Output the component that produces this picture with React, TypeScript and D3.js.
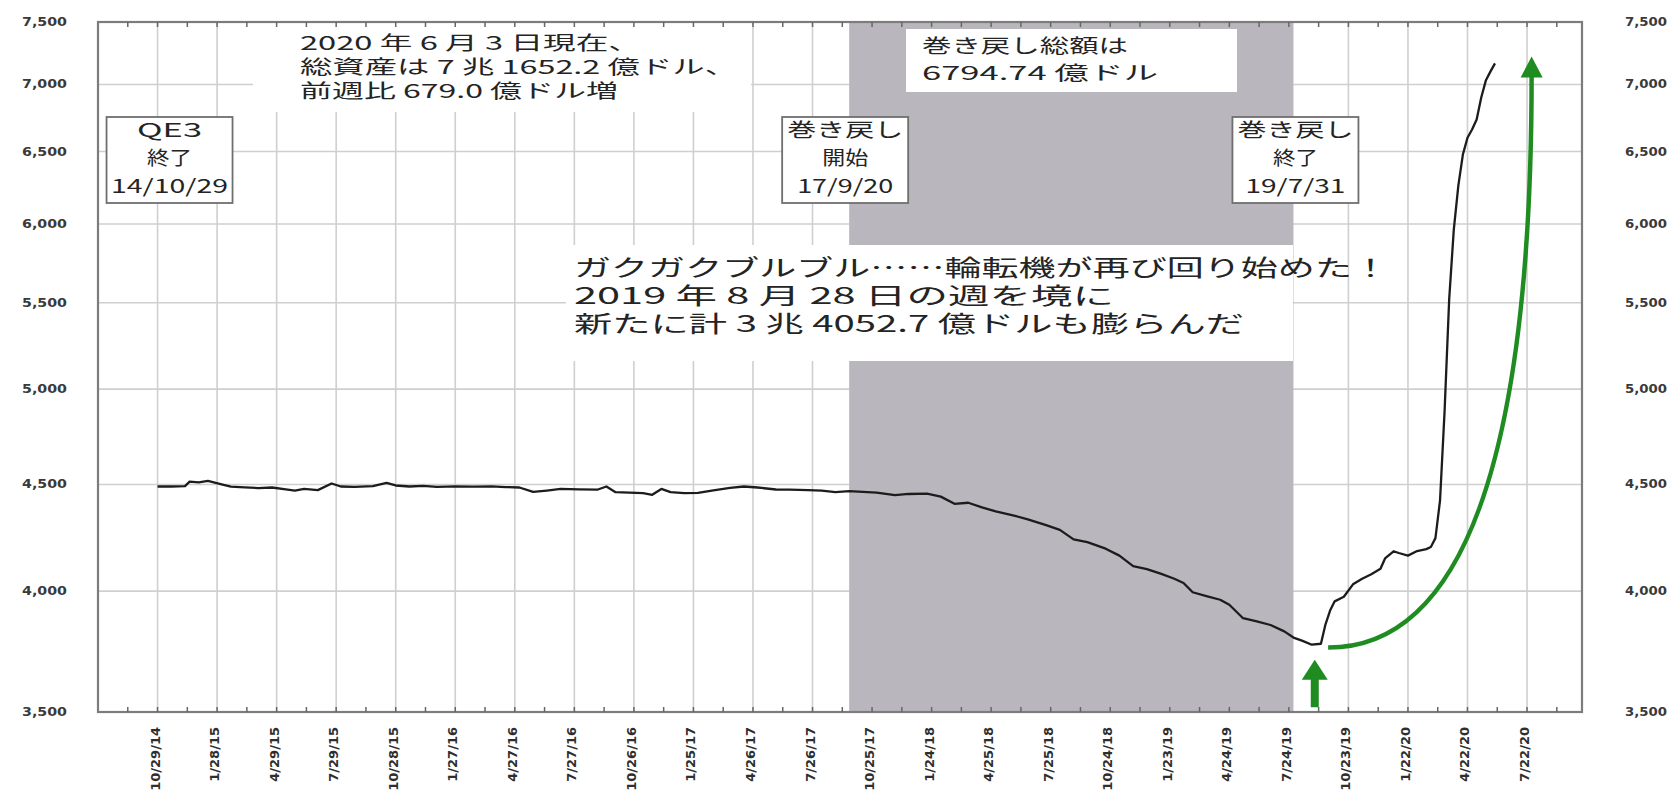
import { useEffect, useRef } from 'react'
import * as d3 from 'd3'

const W = 1669
const H = 792

// weekly Fed total assets (billions of USD)
const dates = [
  '2014-10-29', '2014-11-19', '2014-12-10', '2014-12-17', '2014-12-31', '2015-01-14', '2015-02-04', '2015-02-18',
  '2015-03-11', '2015-04-01', '2015-04-22', '2015-05-13', '2015-05-27', '2015-06-10', '2015-07-01', '2015-07-22',
  '2015-08-05', '2015-08-26', '2015-09-23', '2015-10-14', '2015-10-28', '2015-11-18', '2015-12-09', '2015-12-30',
  '2016-01-27', '2016-02-24', '2016-03-23', '2016-04-13', '2016-05-04', '2016-05-25', '2016-06-15', '2016-07-06',
  '2016-08-03', '2016-08-31', '2016-09-14', '2016-09-28', '2016-10-19', '2016-11-09', '2016-11-23', '2016-12-07',
  '2016-12-21', '2017-01-11', '2017-02-01', '2017-02-22', '2017-03-22', '2017-04-12', '2017-05-03', '2017-05-31',
  '2017-06-21', '2017-07-19', '2017-08-09', '2017-08-30', '2017-09-20', '2017-10-11', '2017-11-01', '2017-11-29',
  '2017-12-20', '2018-01-17', '2018-02-07', '2018-02-28', '2018-03-21', '2018-04-11', '2018-05-02', '2018-05-30',
  '2018-06-20', '2018-07-18', '2018-08-08', '2018-08-29', '2018-09-19', '2018-10-17', '2018-11-07', '2018-11-28',
  '2018-12-19', '2019-01-09', '2019-01-30', '2019-02-13', '2019-02-27', '2019-03-20', '2019-04-10', '2019-04-24',
  '2019-05-15', '2019-06-05', '2019-06-26', '2019-07-17', '2019-07-31', '2019-08-14', '2019-08-28', '2019-09-11',
  '2019-09-18', '2019-09-25', '2019-10-02', '2019-10-16', '2019-10-30', '2019-11-13', '2019-11-27', '2019-12-11',
  '2019-12-18', '2019-12-31', '2020-01-08', '2020-01-22', '2020-02-05', '2020-02-19', '2020-02-26', '2020-03-04',
  '2020-03-11', '2020-03-18', '2020-03-25', '2020-04-01', '2020-04-08', '2020-04-15', '2020-04-22', '2020-04-29',
  '2020-05-06', '2020-05-13', '2020-05-20', '2020-05-27', '2020-06-03',
]
const assets = [
  4490, 4490, 4492, 4514, 4510, 4518, 4500, 4489,
  4486, 4482, 4485, 4476, 4470, 4478, 4472, 4505,
  4490, 4488, 4492, 4508, 4495, 4490, 4493, 4488,
  4491, 4489, 4491, 4487, 4485, 4463, 4470, 4478,
  4476, 4474, 4490, 4462, 4460, 4457, 4449, 4478,
  4462, 4457, 4458, 4470, 4483, 4490, 4485, 4475,
  4474, 4472, 4470, 4462, 4467, 4463, 4460, 4447,
  4453, 4455, 4440, 4405, 4410, 4388, 4368, 4348,
  4330, 4302, 4280, 4235, 4222, 4192, 4160, 4112,
  4098, 4078, 4055, 4036, 3995, 3978, 3962, 3940,
  3882, 3868, 3853, 3826, 3800, 3786, 3770, 3774,
  3856, 3915, 3955, 3975, 4030, 4055, 4075, 4100,
  4147, 4180, 4172, 4160, 4181, 4190, 4200, 4241,
  4420, 4880, 5520, 5960, 6260, 6480, 6600, 6660,
  6735, 6900, 7030, 7100, 7165,
]

const xTickLabels = [
  '10/29/14', '1/28/15', '4/29/15', '7/29/15', '10/28/15', '1/27/16', '4/27/16', '7/27/16',
  '10/26/16', '1/25/17', '4/26/17', '7/26/17', '10/25/17', '1/24/18', '4/25/18', '7/25/18',
  '10/24/18', '1/23/19', '4/24/19', '7/24/19', '10/23/19', '1/22/20', '4/22/20', '7/22/20',
]
const yTicks = [3500, 4000, 4500, 5000, 5500, 6000, 6500, 7000, 7500]
const xDomain = ['2014-07-30', '2020-10-14']

const qtStart = '2017-09-20'
const qtEnd = '2019-07-31'
const turnDate = '2019-08-28'

const noteTop = ['2020 年 6 月 3 日現在、', '総資産は 7 兆 1652.2 億ドル、', '前週比 679.0 億ドル増']
const noteTotal = ['巻き戻し総額は', '6794.74 億ドル']
const noteBig = [
  'ガクガクブルブル……輪転機が再び回り始めた！',
  '2019 年 8 月 28 日の週を境に',
  '新たに計 3 兆 4052.7 億ドルも膨らんだ',
]
const eventDates = ['2014-10-29', '2017-09-20', '2019-07-31']
const eventLines = [
  ['QE3', '終了', '14/10/29'],
  ['巻き戻し', '開始', '17/9/20'],
  ['巻き戻し', '終了', '19/7/31'],
]

// curved green arrow (date, value) anchors
const arrowFrom: [string, number] = ['2019-09-22', 3758]
const arrowTo: [string, number] = ['2020-07-29', 7220]

const JP = '"Noto Sans CJK JP", "Noto Sans", sans-serif'
const NUM = '"DejaVu Sans", Verdana, sans-serif'
const GREEN = '#1f8c22'

export default function App() {
  const svgRef = useRef<SVGSVGElement>(null)

  useEffect(() => {
    const svgEl = svgRef.current
    if (!svgEl) return
    const svg = d3.select(svgEl)
    svg.selectAll('*').remove()

    const margin = { top: 22, right: 87, bottom: 80, left: 98 }
    const innerW = W - margin.left - margin.right
    const innerH = H - margin.top - margin.bottom

    const parse = d3.timeParse('%Y-%m-%d')
    const parseTick = d3.timeParse('%m/%d/%y')
    const series = dates.map((d, i) => ({ date: parse(d)!, value: assets[i] }))
    const majors = xTickLabels.map(t => parseTick(t)!)
    const step = +majors[1] - +majors[0]
    const minors = [new Date(+majors[0] - step / 2)]
    majors.forEach((m, i) => {
      const next = majors[i + 1]
      minors.push(new Date(next ? (+m + +next) / 2 : +m + step / 2))
    })

    const x = d3.scaleTime().domain(xDomain.map(d => parse(d)!)).range([0, innerW])
    const y = d3.scaleLog().domain([3500, 7500]).range([innerH, 0])

    svg.append('rect').attr('width', W).attr('height', H).attr('fill', '#fff')
    const g = svg.append('g').attr('transform', `translate(${margin.left},${margin.top})`)

    // gridlines
    g.append('g').selectAll('line').data(yTicks.slice(1, -1)).join('line')
      .attr('x1', 0).attr('x2', innerW).attr('y1', d => y(d)).attr('y2', d => y(d))
      .attr('stroke', '#cfcfcf').attr('stroke-width', 1.6)
    g.append('g').selectAll('line').data(majors).join('line')
      .attr('x1', d => x(d)).attr('x2', d => x(d)).attr('y1', 0).attr('y2', innerH)
      .attr('stroke', '#cfcfcf').attr('stroke-width', 1.6)

    // quantitative tightening shade
    g.append('rect')
      .attr('x', x(parse(qtStart)!)).attr('y', 0)
      .attr('width', x(parse(qtEnd)!) - x(parse(qtStart)!)).attr('height', innerH)
      .attr('fill', '#b9b6bd')

    const text = (
      parent: d3.Selection<SVGGElement, unknown, null, undefined>,
      tx: number, ty: number, s: string, size: number, len: number | null,
      anchor = 'start', family = JP, weight = 'normal', fill = '#242424',
    ) => {
      const t = parent.append('text')
        .attr('x', tx).attr('y', ty).attr('text-anchor', anchor)
        .style('font-family', family).style('font-size', `${size}px`).style('font-weight', weight)
        .attr('fill', fill).text(s)
      if (len) t.attr('textLength', len).attr('lengthAdjust', 'spacingAndGlyphs')
      return t
    }

    // white note boxes (no frame)
    const notes = g.append('g').attr('transform', `translate(${-margin.left},${-margin.top})`)
    notes.append('rect').attr('x', 253).attr('y', 23).attr('width', 498).attr('height', 89).attr('fill', '#fff')
    const topLens = [341, 437, 318]
    noteTop.forEach((s, i) => text(notes, 300, 50 + i * 24, s, 19, topLens[i]))

    notes.append('rect').attr('x', 906).attr('y', 29).attr('width', 331).attr('height', 63).attr('fill', '#fff')
    const totalLens = [206, 236]
    noteTotal.forEach((s, i) => text(notes, 922, 53 + i * 27, s, 19, totalLens[i]))

    notes.append('rect').attr('x', 566).attr('y', 245).attr('width', 727).attr('height', 116).attr('fill', '#fff')
    const bigLens = [815, 540, 670]
    noteBig.forEach((s, i) => text(notes, 574, 276 + i * 28, s, 23, bigLens[i]))

    // series line
    const line = d3.line<{ date: Date; value: number }>()
      .x(d => x(d.date)).y(d => y(d.value))
    g.append('path').datum(series)
      .attr('fill', 'none').attr('stroke', '#1c1c1c').attr('stroke-width', 2.3)
      .attr('stroke-linejoin', 'round').attr('d', line)

    // event boxes
    const boxShift = [12, -4, 2]
    const boxLens = [[65, 45, 117], [116, 46, 96], [116, 45, 100]]
    eventDates.forEach((d, i) => {
      const cx = x(parse(d)!) + boxShift[i]
      const bg = g.append('g')
      bg.append('rect').attr('x', cx - 63).attr('y', 117 - margin.top).attr('width', 126).attr('height', 86)
        .attr('fill', '#fff').attr('stroke', '#6f6f6f').attr('stroke-width', 1.8)
      eventLines[i].forEach((s, j) => {
        text(bg, cx, 137 - margin.top + j * 28, s, 19, boxLens[i][j], 'middle')
      })
    })

    // green arrows
    const ax = x(parse(turnDate)!) + 3
    const upTip = y(3708)
    const upBase = y(3518)
    g.append('path')
      .attr('d', `M${ax - 4},${upBase} L${ax - 4},${upTip + 20} L${ax - 13},${upTip + 20} L${ax},${upTip} L${ax + 13},${upTip + 20} L${ax + 4},${upTip + 20} L${ax + 4},${upBase} Z`)
      .attr('fill', GREEN)

    const p0 = [x(parse(arrowFrom[0])!), y(arrowFrom[1])]
    const tip = [x(parse(arrowTo[0])!), y(arrowTo[1])]
    const p2 = [tip[0], tip[1] + 18]
    g.append('path')
      .attr('d', `M${p0[0]},${p0[1]} Q${p2[0]},${p0[1]} ${p2[0]},${p2[1]}`)
      .attr('fill', 'none').attr('stroke', GREEN).attr('stroke-width', 4.5)
    g.append('path')
      .attr('d', `M${tip[0]},${tip[1]} L${tip[0] + 11},${tip[1] + 21} L${tip[0] - 11},${tip[1] + 21} Z`)
      .attr('fill', GREEN)

    // frame
    g.append('rect').attr('width', innerW).attr('height', innerH)
      .attr('fill', 'none').attr('stroke', '#7c7c7c').attr('stroke-width', 2.2)

    // tick marks, top and bottom
    const allTicks = [...majors, ...minors]
    g.append('g').selectAll('line').data(allTicks).join('line')
      .attr('x1', d => x(d)).attr('x2', d => x(d)).attr('y1', innerH).attr('y2', innerH - 5)
      .attr('stroke', '#666').attr('stroke-width', 1.5)
    g.append('g').selectAll('line').data(allTicks).join('line')
      .attr('x1', d => x(d)).attr('x2', d => x(d)).attr('y1', 0).attr('y2', 5)
      .attr('stroke', '#666').attr('stroke-width', 1.5)

    // y labels, both sides
    const fmt = d3.format(',')
    yTicks.forEach(v => {
      text(g, -31, y(v) + 4, fmt(v), 12.5, 45, 'end', NUM, 'bold', '#3a3a3a')
      text(g, innerW + 43, y(v) + 4, fmt(v), 12.5, 42, 'start', NUM, 'bold', '#3a3a3a')
    })

    // x labels, rotated
    majors.forEach((d, i) => {
      g.append('text')
        .attr('transform', `translate(${x(d) + 2},${innerH + 15}) rotate(-90)`)
        .attr('text-anchor', 'end')
        .style('font-family', NUM).style('font-size', '13px').style('font-weight', 'bold')
        .attr('fill', '#2e2e2e')
        .text(xTickLabels[i])
    })
  }, [])

  return (
    <div style={{ position: 'absolute', left: 0, top: 0, width: W, height: H }}>
      <svg ref={svgRef} width={W} height={H} style={{ display: 'block' }} />
    </div>
  )
}
